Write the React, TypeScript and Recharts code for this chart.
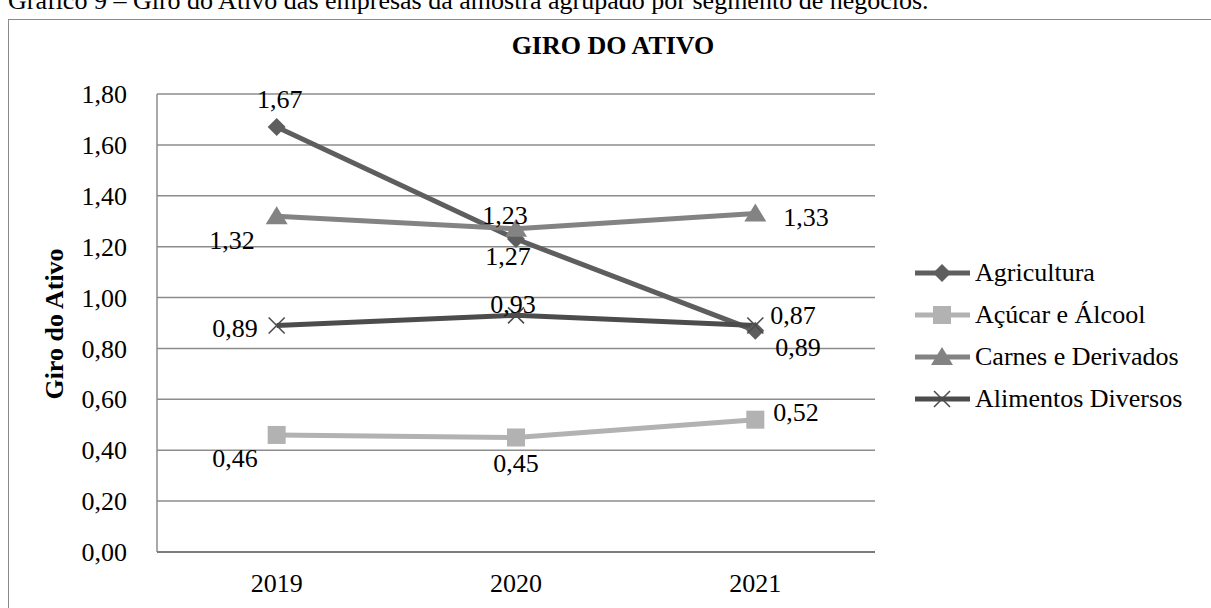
import { CartesianGrid, LabelList, Line, LineChart, XAxis, YAxis } from "recharts"

const years = ["2019", "2020", "2021"]
const agricultura = [1.67, 1.23, 0.87]
const acucarAlcool = [0.46, 0.45, 0.52]
const carnesDerivados = [1.32, 1.27, 1.33]
const alimentosDiversos = [0.89, 0.93, 0.89]
const yTicks = [0, 0.2, 0.4, 0.6, 0.8, 1.0, 1.2, 1.4, 1.6, 1.8]

const data = years.map((year, i) => ({
  idx: i,
  year,
  agricultura: agricultura[i],
  acucar: acucarAlcool[i],
  carnes: carnesDerivados[i],
  alimentos: alimentosDiversos[i],
}))

const FONT = '"Liberation Serif", "Times New Roman", serif'
const fmt = (v: number) => v.toFixed(2).replace(".", ",")

type Shape = "diamond" | "square" | "triangle" | "cross"
// label placement per point: [dx, dy, anchor]
type LabelPos = [number, number, "start" | "middle" | "end"]

const series: {
  key: string
  name: string
  color: string
  shape: Shape
  labels: LabelPos[]
}[] = [
  {
    key: "agricultura",
    name: "Agricultura",
    color: "#5e5e5e",
    shape: "diamond",
    labels: [[3, -28, "middle"], [-11, -24, "middle"], [15, -16, "start"]],
  },
  {
    key: "acucar",
    name: "Açúcar e Álcool",
    color: "#b2b2b2",
    shape: "square",
    labels: [[-19, 23, "end"], [0, 25, "middle"], [18, -8, "start"]],
  },
  {
    key: "carnes",
    name: "Carnes e Derivados",
    color: "#838383",
    shape: "triangle",
    labels: [[-22, 24, "end"], [-8, 27, "middle"], [28, 3, "start"]],
  },
  {
    key: "alimentos",
    name: "Alimentos Diversos",
    color: "#4c4c4c",
    shape: "cross",
    labels: [[-19, 2, "end"], [-3, -11, "middle"], [20, 21, "start"]],
  },
]

function Marker({ shape, color, cx, cy }: { shape: Shape; color: string; cx: number; cy: number }) {
  if (shape === "diamond") {
    return <polygon points={`${cx},${cy - 9} ${cx + 9},${cy} ${cx},${cy + 9} ${cx - 9},${cy}`} fill={color} />
  }
  if (shape === "square") {
    return <rect x={cx - 9} y={cy - 9} width={18} height={18} fill={color} />
  }
  if (shape === "triangle") {
    return <polygon points={`${cx},${cy - 10} ${cx + 11},${cy + 8} ${cx - 11},${cy + 8}`} fill={color} />
  }
  return (
    <g stroke={color} strokeWidth={1.6}>
      <line x1={cx - 8} y1={cy - 8} x2={cx + 8} y2={cy + 8} />
      <line x1={cx - 8} y1={cy + 8} x2={cx + 8} y2={cy - 8} />
    </g>
  )
}

const YTick = (props: any) => (
  <text x={127} y={props.y} dy="0.35em" textAnchor="end" fontFamily={FONT} fontSize={26} fill="#000">
    {fmt(props.payload.value)}
  </text>
)

const XTick = (props: any) => (
  <text x={props.x} y={592} textAnchor="middle" fontFamily={FONT} fontSize={26} fill="#000">
    {years[props.payload.value]}
  </text>
)

export default function App() {
  return (
    <div
      style={{
        position: "absolute",
        left: 0,
        top: 0,
        width: 1211,
        height: 608,
        overflow: "hidden",
        background: "#fff",
        fontFamily: FONT,
      }}
    >
      {/* caption above the frame, cut at the top edge */}
      <div
        style={{
          position: "absolute",
          left: 8,
          top: -12,
          fontSize: 26,
          lineHeight: "26px",
          whiteSpace: "nowrap",
          color: "#000",
        }}
      >
        Gráfico 9 – Giro do Ativo das empresas da amostra agrupado por segmento de negócios.
      </div>

      {/* chart frame */}
      <div
        style={{
          position: "absolute",
          left: 8,
          top: 19,
          width: 1300,
          height: 700,
          border: "1.5px solid #8a8a8a",
        }}
      />

      <LineChart
        width={1211}
        height={608}
        data={data}
        margin={{ top: 94, right: 336, bottom: 0, left: 0 }}
        style={{ position: "absolute", left: 0, top: 0 }}
      >
        <text x={613} y={54} textAnchor="middle" fontFamily={FONT} fontSize={26} fontWeight="bold" fill="#000">
          GIRO DO ATIVO
        </text>
        <text
          transform="translate(63, 324) rotate(-90)"
          textAnchor="middle"
          fontFamily={FONT}
          fontSize={26}
          fontWeight="bold"
          fill="#000"
        >
          Giro do Ativo
        </text>
        <CartesianGrid vertical={false} stroke="#8c8c8c" strokeWidth={1.5} />
        <XAxis
          dataKey="idx"
          type="number"
          domain={[-0.5, 2.5]}
          ticks={[0, 1, 2]}
          height={56}
          axisLine={{ stroke: "#7d7d7d", strokeWidth: 2 }}
          tickLine={false}
          tick={<XTick />}
        />
        <YAxis
          width={157}
          domain={[0, 1.8]}
          ticks={yTicks}
          axisLine={{ stroke: "#8c8c8c", strokeWidth: 1.5 }}
          tickLine={false}
          tick={<YTick />}
        />
        {series.map((s) => (
          <Line
            key={s.key}
            dataKey={s.key}
            name={s.name}
            type="linear"
            stroke={s.color}
            strokeWidth={5}
            isAnimationActive={false}
            dot={(p: any) => (
              <Marker key={`${s.key}-${p.index}`} shape={s.shape} color={s.color} cx={p.cx} cy={p.cy} />
            )}
            activeDot={false}
          >
            <LabelList
              dataKey={s.key}
              content={(p: any) => {
                const [dx, dy, anchor] = s.labels[p.index]
                return (
                  <text
                    x={p.x + dx}
                    y={p.y + dy}
                    dy="0.35em"
                    textAnchor={anchor}
                    fontFamily={FONT}
                    fontSize={26}
                    fill="#000"
                  >
                    {fmt(p.value)}
                  </text>
                )
              }}
            />
          </Line>
        ))}
      </LineChart>

      {/* legend */}
      <div style={{ position: "absolute", left: 915, top: 252 }}>
        {series.map((s) => (
          <div key={s.key} style={{ display: "flex", alignItems: "center", height: 42 }}>
            <svg width={57} height={24}>
              <line x1={0} y1={12} x2={55} y2={12} stroke={s.color} strokeWidth={5} />
              <Marker shape={s.shape} color={s.color} cx={27} cy={12} />
            </svg>
            <span style={{ fontSize: 26, color: "#000", marginLeft: 3 }}>{s.name}</span>
          </div>
        ))}
      </div>
    </div>
  )
}
